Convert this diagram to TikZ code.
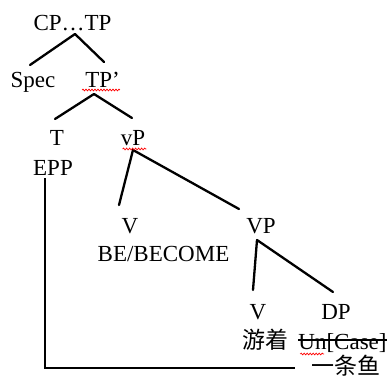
\documentclass[tikz,border=0pt]{standalone}
\usepackage{fontspec}
\setmainfont{Liberation Serif}
\newfontfamily\cjk{Noto Sans CJK SC}
\usetikzlibrary{calc,decorations.pathmorphing}
\begin{document}
\begin{tikzpicture}[x=1pt,y=-1pt,
  lbl/.style={anchor=base,inner sep=0pt,font=\fontsize{23}{27}\selectfont},
  br/.style={line width=2.3pt,line cap=round},
  squig/.style={red,line width=0.7pt,decorate,decoration={snake,amplitude=0.9pt,segment length=3pt}},
  strike/.style={line width=1.2pt}]
\useasboundingbox (0,0) rectangle (389,378);
\node[lbl] (cptp) at (72.5,30) {CP…TP};
\node[lbl] (spec) at (33,87) {Spec};
\node[lbl] (tpbar) at (102.5,87) {TP’};
\node[lbl] (t) at (57,145) {T};
\node[lbl] (epp) at (53,175) {EPP};
\node[lbl] (vp1) at (133,145) {vP};
\node[lbl] (v1) at (130,233) {V};
\node[lbl] (be) at (163.5,261) {BE/BECOME};
\node[lbl] (vp2) at (261,233) {VP};
\node[lbl] (v2) at (258,319) {V};
\node[lbl] (dp) at (336,319) {DP};
\node[lbl,font=\fontsize{23}{27}\selectfont\cjk] (youzhe) at (265.5,348) {游着};
\node[lbl] (uncase) at (342.5,349) {Un[Case]};
\node[lbl,font=\fontsize{23}{27}\selectfont\cjk] (fish) at (346,374) {一条鱼};
% branches
\draw[br] ($(cptp.base)+(2.5,4)$) -- ($(spec.base)+(-3,-22)$);
\draw[br] ($(cptp.base)+(2.5,4)$) -- ($(tpbar.base)+(1.5,-25)$);
\draw[br] ($(tpbar.base)+(-8.5,7)$) -- ($(t.base)+(-2,-26)$);
\draw[br] ($(tpbar.base)+(-8.5,7)$) -- ($(vp1.base)+(-1,-27)$);
\draw[br] ($(vp1.base)+(0,5)$) -- ($(v1.base)+(-11,-28)$);
\draw[br] ($(vp1.base)+(0,5)$) -- ($(vp2.base)+(-22,-24)$);
\draw[br] ($(vp2.base)+(-4,7)$) -- ($(v2.base)+(-5,-29)$);
\draw[br] ($(vp2.base)+(-4,7)$) -- ($(dp.base)+(-3,-27)$);
% movement line
\draw[br,line cap=butt] ($(epp.base)+(-8,3)$) |- ($(fish.base)+(-51,-6)$);
% strike through Un[Case]
\draw[strike] ($(uncase.base west)+(0,-9)$) -- ($(uncase.base east)+(0,-9)$);
% spell-check squiggles
\draw[squig] ($(tpbar.base west)+(-3,3)$) -- ($(tpbar.base east)+(0,3)$);
\draw[squig] ($(vp1.base west)+(2,4)$) -- ($(vp1.base east)+(1,4)$);
\draw[squig] ($(uncase.base west)+(2,5)$) -- ($(uncase.base west)+(26,5)$);
\end{tikzpicture}
\end{document}
